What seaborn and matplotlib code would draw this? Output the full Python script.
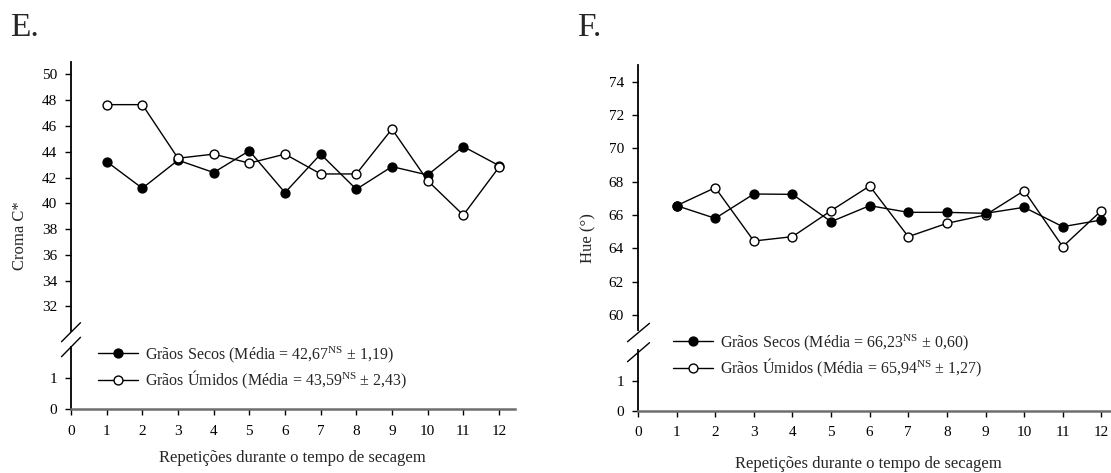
import matplotlib
matplotlib.use("Agg")
import matplotlib.pyplot as plt
from matplotlib.lines import Line2D
import seaborn as sns
import pandas as pd

# Repetitions along the drying period
reps = [1, 2, 3, 4, 5, 6, 7, 8, 9, 10, 11, 12]

# Panel E - chroma C*
croma_secos = [43.24, 41.17, 43.35, 42.39, 44.08, 40.83, 43.82, 41.09, 42.85, 42.20, 44.41, 42.93]
croma_umidos = [47.66, 47.66, 43.50, 43.82, 43.12, 43.82, 42.28, 42.28, 45.77, 41.76, 39.09, 42.80]

# Panel F - hue angle
hue_secos = [66.56, 65.80, 67.26, 67.24, 65.60, 66.56, 66.16, 66.16, 66.10, 66.46, 65.30, 65.70]
hue_umidos = [66.56, 67.64, 64.44, 64.70, 66.26, 67.74, 64.70, 65.50, 66.00, 67.46, 64.10, 66.26]

croma_ticks = [32, 34, 36, 38, 40, 42, 44, 46, 48, 50]
hue_ticks = [60, 62, 64, 66, 68, 70, 72, 74]
x_ticks = list(range(0, 13))

lbl_secos_e = r"Grãos Secos (Média = 42,6$7^{\mathrm{NS}}$ ± 1,19)"
lbl_umidos_e = r"Grãos Úmidos (Média = 43,5$9^{\mathrm{NS}}$ ± 2,43)"
lbl_secos_f = r"Grãos Secos (Média = 66,2$3^{\mathrm{NS}}$ ± 0,60)"
lbl_umidos_f = r"Grãos Úmidos (Média = 65,9$4^{\mathrm{NS}}$ ± 1,27)"

sns.set_style("ticks")
plt.rcParams["font.family"] = ["Liberation Serif", "DejaVu Serif"]
plt.rcParams["mathtext.fontset"] = "custom"
plt.rcParams["mathtext.rm"] = "Liberation Serif"
plt.rcParams["mathtext.it"] = "Liberation Serif:italic"
plt.rcParams["mathtext.default"] = "regular"
plt.rcParams["axes.unicode_minus"] = False

W, H = 1111, 473
fig = plt.figure(figsize=(W / 100, H / 100), dpi=100)


def rect(x0, y_top, x1, y_bot):
    """Pixel box (top-left origin) -> figure-fraction rectangle."""
    return [x0 / W, 1 - y_bot / H, (x1 - x0) / W, (y_bot - y_top) / H]


def fxy(x, y):
    return x / W, 1 - y / H


def style_axes(ax, xaxis):
    for s in ("top", "right"):
        ax.spines[s].set_visible(False)
    ax.spines["left"].set_color("black")
    ax.spines["left"].set_linewidth(1.3)
    ax.tick_params(axis="y", direction="out", length=4, width=1.0, pad=6,
                   labelsize=11, colors="black")
    if xaxis:
        ax.spines["bottom"].set_color("#6e6e6e")
        ax.spines["bottom"].set_linewidth(1.8)
        ax.tick_params(axis="x", direction="out", length=4, width=1.0, pad=7,
                       labelsize=11, colors="black")
    else:
        ax.spines["bottom"].set_visible(False)
        ax.tick_params(axis="x", bottom=False, labelbottom=False)
    ax.set_facecolor("white")


def panel(cfg):
    ax_top = fig.add_axes(rect(cfg["x0"], cfg["top"], cfg["xend"], cfg["upper_bot"]))
    ax_bot = fig.add_axes(rect(cfg["x0"], cfg["lower_top"], cfg["xend"], cfg["axis_y"]))

    df = pd.DataFrame({"rep": reps, "secos": cfg["secos"], "umidos": cfg["umidos"]})
    sns.lineplot(data=df, x="rep", y="secos", ax=ax_top, color="black", lw=1.0,
                 marker="o", markersize=6.4, markerfacecolor="black",
                 markeredgecolor="black", markeredgewidth=1.0,
                 zorder=cfg["z_secos"], label=cfg["lbl_secos"], legend=False)
    sns.lineplot(data=df, x="rep", y="umidos", ax=ax_top, color="black", lw=1.0,
                 marker="o", markersize=6.4, markerfacecolor="white",
                 markeredgecolor="black", markeredgewidth=1.0,
                 zorder=cfg["z_umidos"], label=cfg["lbl_umidos"], legend=False)

    ax_top.set_xlim(0, cfg["xmax"])
    ax_bot.set_xlim(0, cfg["xmax"])
    ax_top.set_ylim(*cfg["ylim_top"])
    ax_top.set_yticks(cfg["yticks"])
    ax_bot.set_ylim(0, cfg["ylim_bot"])
    ax_bot.set_yticks([0, 1])
    ax_bot.set_xticks(x_ticks)
    ax_top.set_xlabel("")
    ax_top.set_ylabel("")
    style_axes(ax_top, False)
    style_axes(ax_bot, True)

    # axis break marks
    for (xa, ya, xb, yb) in cfg["slashes"]:
        p0, p1 = fxy(xa, ya), fxy(xb, yb)
        fig.add_artist(Line2D([p0[0], p1[0]], [p0[1], p1[1]],
                              transform=fig.transFigure, color="black", lw=1.0))

    handles, labels = ax_top.get_legend_handles_labels()
    lx, ly = fxy(*cfg["legend_xy"])
    fig.legend(handles, labels, loc="upper left", bbox_to_anchor=(lx, ly),
               bbox_transform=fig.transFigure, frameon=False, fontsize=11.5,
               handlelength=2.5, handletextpad=0.45, labelspacing=0.25,
               borderpad=0, borderaxespad=0)

    tx, ty = fxy(*cfg["letter_xy"])
    fig.text(tx, ty, cfg["letter"], fontsize=24, ha="left", va="baseline")
    yx, yy = fxy(*cfg["ylabel_xy"])
    fig.text(yx, yy, cfg["ylabel"], fontsize=12, rotation=90, ha="center", va="center")
    xx, xy = fxy(*cfg["xlabel_xy"])
    fig.text(xx, xy, "Repetições durante o tempo de secagem", fontsize=12,
             ha="center", va="baseline")


panel(dict(
    x0=71, xend=515, xmax=12.45, top=62, upper_bot=331, lower_top=347, axis_y=409.3,
    ylim_top=(30.09, 50.97), yticks=croma_ticks, ylim_bot=1.97,
    secos=croma_secos, umidos=croma_umidos, z_secos=3, z_umidos=4,
    lbl_secos=lbl_secos_e, lbl_umidos=lbl_umidos_e,
    slashes=[(61.5, 341.7, 80.5, 322.7), (61.5, 356.7, 80.5, 337.3)],
    legend_xy=(98, 344), letter="E.", letter_xy=(10, 36),
    ylabel="Croma C*", ylabel_xy=(20, 236), xlabel_xy=(292, 462),
))

panel(dict(
    x0=638, xend=1111, xmax=12.25, top=65, upper_bot=330, lower_top=350, axis_y=410.7,
    ylim_top=(59.1, 75.0), yticks=hue_ticks, ylim_bot=2.02,
    secos=hue_secos, umidos=hue_umidos, z_secos=4, z_umidos=3,
    lbl_secos=lbl_secos_f, lbl_umidos=lbl_umidos_f,
    slashes=[(627.5, 341.7, 649.5, 323.3), (627.5, 361.7, 649.5, 342.7)],
    legend_xy=(673, 332), letter="F.", letter_xy=(577, 36),
    ylabel="Hue (°)", ylabel_xy=(588, 238), xlabel_xy=(868, 468),
))

fig.savefig("out.png", dpi=100, facecolor="white")
